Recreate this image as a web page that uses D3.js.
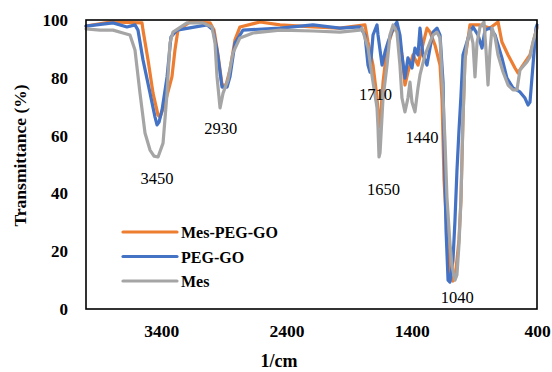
<!DOCTYPE html>
<html>
<head>
<meta charset="utf-8">
<script src="https://cdn.jsdelivr.net/npm/d3@7"></script>
<style>
  html, body { margin: 0; padding: 0; background: #fff; }
  svg { display: block; }
  text { font-family: "Liberation Serif", "Times New Roman", serif; fill: #000; }
</style>
</head>
<body>
<svg id="chart" width="552" height="372"></svg>
<script>
// FTIR spectra: [wavenumber (1/cm), transmittance (%)]
const mesPegGo = [
  [4000, 97.9], [3808, 99.3], [3553, 99.0], [3545, 96.5], [3505, 86.2], [3465, 74.7],
  [3425, 67.1], [3409, 66.4], [3369, 71.3], [3314, 80.3], [3290, 89.6], [3266, 96.5],
  [3170, 99.3], [3010, 99.0], [2978, 96.5], [2946, 87.9], [2914, 77.5], [2882, 77.5],
  [2851, 82.7], [2811, 93.1], [2771, 97.6], [2611, 99.3], [2451, 98.3], [2188, 97.6],
  [1973, 97.2], [1773, 98.3], [1749, 92.4], [1709, 84.4], [1677, 73.0], [1661, 63.0],
  [1653, 63.7], [1629, 78.5], [1597, 90.3], [1557, 95.8], [1518, 98.3], [1478, 87.9],
  [1454, 77.5], [1430, 82.0], [1390, 87.9], [1350, 84.4], [1318, 90.3], [1278, 97.2],
  [1254, 95.8], [1214, 91.3], [1174, 84.4], [1158, 72.3], [1142, 44.6],
  [1110, 20.4], [1087, 10.7], [1071, 9.7], [1047, 13.5], [1023, 23.9], [1007, 37.7],
  [991, 65.4], [975, 86.2], [935, 98.3], [855, 98.3], [775, 97.2], [711, 99.3],
  [680, 92.4], [631, 87.9], [576, 83.4], [552, 81.7], [512, 84.4], [456, 87.9],
  [416, 94.8], [400, 97.6]
];

const pegGo = [
  [4000, 97.9], [3784, 99.0], [3673, 97.6], [3609, 98.3], [3585, 96.5], [3545, 86.2],
  [3489, 74.7], [3449, 66.4], [3433, 63.7], [3417, 64.7], [3393, 68.9], [3353, 80.3],
  [3322, 94.1], [3274, 96.5], [3034, 98.3], [2986, 96.5], [2954, 89.6], [2914, 76.8],
  [2874, 76.8], [2851, 80.3], [2811, 92.0], [2747, 96.5], [2451, 97.2], [2188, 98.3],
  [1973, 97.2], [1813, 97.6], [1773, 94.8], [1749, 84.4], [1733, 82.0], [1709, 94.8],
  [1677, 98.3], [1669, 94.8], [1637, 84.4], [1613, 88.9], [1589, 92.4], [1549, 97.2],
  [1518, 99.3], [1494, 94.8], [1478, 87.9], [1454, 79.9], [1430, 86.9], [1398, 83.4],
  [1374, 90.3], [1350, 87.9], [1334, 97.2], [1310, 87.9], [1278, 84.4], [1254, 90.3],
  [1230, 95.8], [1198, 97.2], [1174, 94.8], [1150, 78.5], [1142, 58.5], [1126, 27.3],
  [1110, 10.0], [1095, 9.3], [1071, 16.6], [1055, 30.4], [1039, 47.8], [1023, 61.6],
  [1007, 73.7], [991, 87.9], [959, 92.4], [935, 95.8], [911, 97.6], [871, 94.8],
  [839, 90.3], [815, 96.5], [775, 97.2], [735, 94.8], [680, 86.9], [640, 79.9],
  [592, 76.5], [536, 75.1], [496, 73.0], [472, 70.6], [456, 71.6], [432, 84.4],
  [408, 97.2], [400, 98.3]
];

const mes = [
  [4000, 96.9], [3888, 96.5], [3784, 96.5], [3705, 95.5], [3649, 94.8], [3609, 89.6],
  [3569, 74.7], [3529, 60.9], [3489, 55.0], [3457, 52.9], [3425, 52.6], [3385, 57.4],
  [3353, 74.7], [3330, 92.0], [3306, 95.8], [3194, 99.0], [3066, 99.0], [2994, 97.6],
  [2970, 92.0], [2954, 80.3], [2930, 69.6], [2906, 74.7], [2867, 79.2], [2827, 88.6],
  [2771, 93.8], [2667, 95.5], [2451, 96.5], [2188, 96.2], [1973, 95.8], [1813, 96.5],
  [1797, 97.2], [1749, 90.3], [1709, 78.5], [1677, 69.6], [1669, 62.6], [1661, 52.6],
  [1653, 54.0], [1629, 73.0], [1597, 84.4], [1574, 94.8], [1549, 98.3], [1518, 95.8],
  [1494, 84.4], [1478, 73.0], [1454, 68.2], [1430, 73.0], [1414, 78.5], [1398, 71.6],
  [1374, 68.2], [1350, 76.5], [1334, 81.0], [1294, 87.9], [1254, 92.4], [1230, 94.8],
  [1198, 95.8], [1174, 93.8], [1150, 73.0], [1134, 57.8], [1119, 38.8], [1095, 22.8],
  [1079, 15.2], [1055, 10.0], [1039, 11.8], [1023, 22.1], [1007, 37.7], [991, 65.4],
  [975, 86.2], [959, 92.0], [935, 96.5], [911, 92.0], [895, 80.3], [879, 92.0],
  [855, 97.6], [823, 99.3], [807, 89.6], [791, 77.5], [775, 89.6], [759, 97.2],
  [735, 94.1], [711, 87.9], [671, 82.0], [631, 77.5], [592, 75.8], [560, 75.8],
  [536, 82.7], [480, 85.5], [456, 87.2], [432, 92.4], [400, 97.2]
];

const seriesNames = ["Mes-PEG-GO", "PEG-GO", "Mes"];
const seriesColors = ["#ED7D31", "#4472C4", "#A5A5A5"];
const xTicks = [3400, 2400, 1400, 400];
const yTicks = [0, 20, 40, 60, 80, 100];

// peak annotations: [label, wavenumber position, transmittance position]
const peakLabels = [
  ["3450", 3434, 43.2],
  ["2930", 2924, 60.5],
  ["1710", 1690, 72.2],
  ["1650", 1625, 39.6],
  ["1440", 1317, 57.4],
  ["1040", 1036, 2.0]
];

const svg = d3.select("#chart");
const margin = { left: 86, right: 15, top: 20, bottom: 63 };
const W = 552, H = 372;

const x = d3.scaleLinear().domain([4000, 400]).range([margin.left, W - margin.right]);
const y = d3.scaleLinear().domain([0, 100]).range([H - margin.bottom, margin.top]);

// spectra, drawn so that Mes sits on top
const line = d3.line().x(d => x(d[0])).y(d => y(d[1]));
const allSeries = [mesPegGo, pegGo, mes];
svg.append("g").selectAll("path")
  .data(allSeries)
  .join("path")
  .attr("d", line)
  .attr("fill", "none")
  .attr("stroke", (d, i) => seriesColors[i])
  .attr("stroke-width", 3.2)
  .attr("stroke-linejoin", "round")
  .attr("stroke-linecap", "round");

// plot frame
svg.append("rect")
  .attr("x", x(4000)).attr("y", y(100))
  .attr("width", x(400) - x(4000)).attr("height", y(0) - y(100))
  .attr("fill", "none").attr("stroke", "#000").attr("stroke-width", 1.6);

// axes
const xAxis = svg.append("g")
  .attr("transform", `translate(0,${y(0)})`)
  .call(d3.axisBottom(x).tickValues(xTicks).tickSize(0).tickPadding(16).tickFormat(d3.format("d")));
xAxis.select(".domain").remove();
xAxis.selectAll("text")
  .style("font-family", "'Liberation Serif', serif")
  .style("font-weight", "bold").style("font-size", "17.5px").attr("fill", "#000");

const yAxis = svg.append("g")
  .attr("transform", `translate(${x(4000)},0)`)
  .call(d3.axisLeft(y).tickValues(yTicks).tickSize(0).tickPadding(18).tickFormat(d3.format("d")));
yAxis.select(".domain").remove();
yAxis.selectAll("text")
  .style("font-family", "'Liberation Serif', serif")
  .style("font-weight", "bold").style("font-size", "17px").attr("fill", "#000");

// axis titles
svg.append("text")
  .attr("transform", `translate(26,${(y(0) + y(100)) / 2 - 9}) rotate(-90)`)
  .attr("text-anchor", "middle")
  .style("font-weight", "bold").style("font-size", "17.5px")
  .text("Transmittance (%)");

svg.append("text")
  .attr("x", 279).attr("y", 367)
  .attr("text-anchor", "middle")
  .style("font-weight", "bold").style("font-size", "18px")
  .text("1/cm");

// peak annotations
svg.append("g").selectAll("text")
  .data(peakLabels)
  .join("text")
  .attr("x", d => x(d[1]))
  .attr("y", d => y(d[2]))
  .attr("text-anchor", "middle")
  .style("font-size", "16.5px")
  .text(d => d[0]);

// legend
const legend = svg.append("g").attr("transform", "translate(123,232)");
const items = legend.selectAll("g")
  .data(seriesNames)
  .join("g")
  .attr("transform", (d, i) => `translate(0,${i * 24.5})`);
items.append("line")
  .attr("x1", 0).attr("x2", 54).attr("y1", 0).attr("y2", 0)
  .attr("stroke", (d, i) => seriesColors[i])
  .attr("stroke-width", 3.2)
  .attr("stroke-linecap", "round");
items.append("text")
  .attr("x", 58).attr("y", 6)
  .style("font-weight", "bold").style("font-size", "16px")
  .text(d => d);
</script>
</body>
</html>
